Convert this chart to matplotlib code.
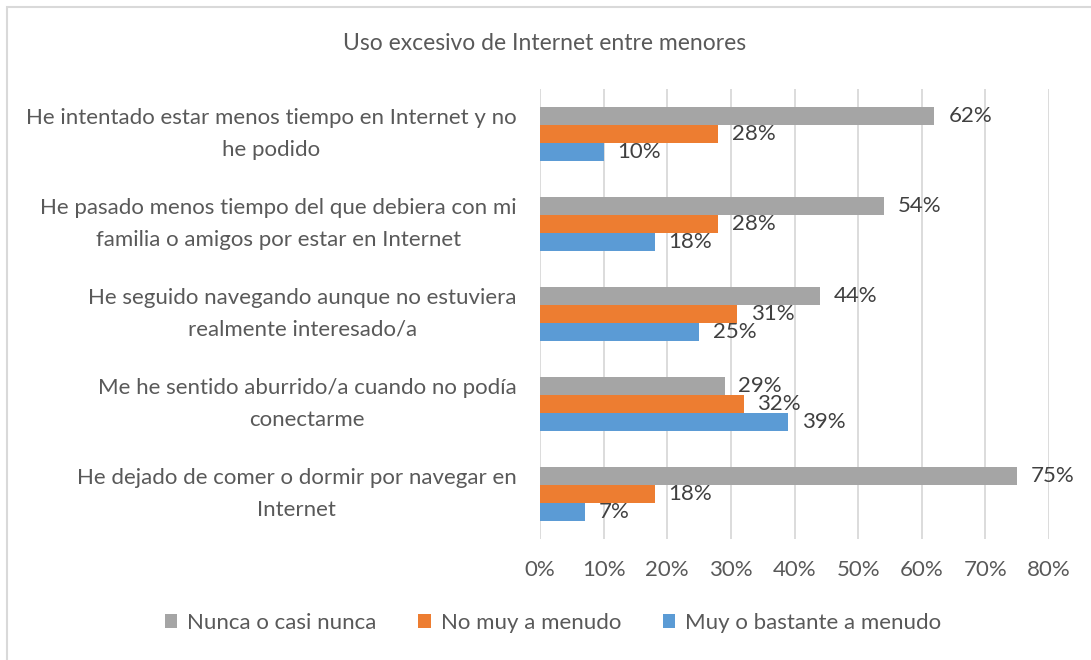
import matplotlib
matplotlib.use("Agg")
import matplotlib.pyplot as plt
from matplotlib.patches import Rectangle
import numpy as np

categories = [
    "He intentado estar menos tiempo en Internet y no\nhe podido",
    "He pasado menos tiempo del que debiera con mi\nfamilia o amigos por estar en Internet",
    "He seguido navegando aunque no estuviera\nrealmente interesado/a",
    "Me he sentido aburrido/a cuando no podía\nconectarme",
    "He dejado de comer o dormir por navegar en\nInternet",
]
series_names = ["Nunca o casi nunca", "No muy a menudo", "Muy o bastante a menudo"]
nunca = [62, 54, 44, 29, 75]
no_muy = [28, 28, 31, 32, 18]
muy = [10, 18, 25, 39, 7]
xticks = [0, 10, 20, 30, 40, 50, 60, 70, 80]
title = "Uso excesivo de Internet entre menores"

colors = ["#A5A5A5", "#ED7D31", "#5B9BD5"]
txt = "#595959"
FONT = "Lato"
plt.rcParams["font.family"] = [FONT, "DejaVu Sans"]
FS = 16

W, H = 1091, 660
fig = plt.figure(figsize=(W / 100, H / 100), dpi=100)
ax = fig.add_axes([540 / W, 1 - 539 / H, (1049 - 540) / W, (539 - 89) / H])

n = len(categories)
y = np.arange(n)
bh = 0.2
offsets = [-bh, 0, bh]
data = [nunca, no_muy, muy]
for vals, off, col, name in zip(data, offsets, colors, series_names):
    bars = ax.barh(y + off, vals, height=bh, color=col, label=name, zorder=3)
    for b, v in zip(bars, vals):
        ax.annotate(f"{v}%", (b.get_width(), b.get_y() + b.get_height() / 2),
                    xytext=(10, 0), textcoords="offset points",
                    ha="left", va="center", fontsize=FS, color="#404040", zorder=4)

ax.set_ylim(n - 0.5, -0.5)
ax.set_xlim(0, 80)
ax.set_xticks(xticks)
ax.set_xticklabels([f"{t}%" for t in xticks], fontsize=FS, color=txt)
ax.set_yticks(y)
ax.set_yticklabels(categories, fontsize=FS, color=txt, multialignment="center", linespacing=1.75)
for lbl in ax.get_yticklabels():
    lbl.set_verticalalignment("center")
ax.tick_params(axis="both", length=0)
ax.tick_params(axis="x", pad=15)
ax.tick_params(axis="y", pad=17)
ax.grid(axis="x", color="#D9D9D9", linewidth=1.3, zorder=0)
for s in ax.spines.values():
    s.set_visible(False)

fig.text(545 / W, 1 - 44 / H, title, ha="center", va="center", fontsize=16.5, color=txt)

leg = fig.legend(loc="center", bbox_to_anchor=(553 / W, 1 - 623 / H), ncol=3, frameon=False,
                 fontsize=FS, labelcolor=txt, handlelength=0.55, handleheight=0.55,
                 handletextpad=0.45, columnspacing=1.9)

fig.patches.append(Rectangle((7 / W, -0.1), 1.2, 1 - 7 / H + 0.1, transform=fig.transFigure,
                             fill=False, edgecolor="#D9D9D9", linewidth=1.5))

fig.savefig("out.png", dpi=100)
